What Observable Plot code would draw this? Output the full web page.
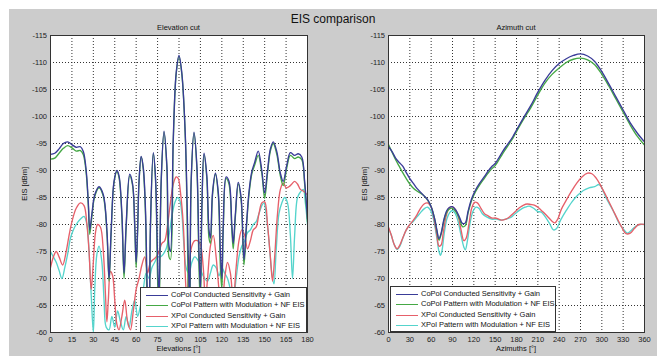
<!DOCTYPE html>
<html><head><meta charset="utf-8">
<script src="https://cdn.jsdelivr.net/npm/d3@7"></script>
<script src="https://cdn.jsdelivr.net/npm/@observablehq/plot@0.6"></script>
<style>
html,body{margin:0;padding:0;background:#fff;}
#root{position:relative;width:657px;height:356px;overflow:hidden;font-family:"Liberation Sans",Arial,sans-serif;color:#111;}
#bg{position:absolute;left:9px;top:9px;width:648px;height:347px;background:#cccccc;}
.panel{position:absolute;top:0;}
.txt{position:absolute;line-height:1;white-space:nowrap;text-align:center;}
.legend{position:absolute;background:#fff;border:1px solid #333;box-sizing:border-box;}
.row{position:absolute;left:0;height:10px;}
.row .ln{position:absolute;top:5px;width:22px;height:0;border-top:1.4px solid;}
.row .lt{position:absolute;top:1px;font-size:7.5px;line-height:1;white-space:nowrap;color:#111;}
</style>
</head><body>
<div id="root"><div id="bg"></div></div>
<script>
// ---------- data ----------
const seriesNames = [
  "CoPol Conducted Sensitivity + Gain",
  "CoPol Pattern with Modulation + NF EIS",
  "XPol Conducted Sensitivity + Gain",
  "XPol Pattern with Modulation + NF EIS"
];
const seriesColors = ["#3a3c98", "#45a845", "#e6606a", "#55d4cc"];

const elevTicks = [0,15,30,45,60,75,90,105,120,135,150,165,180];
const aziTicks = [0,30,60,90,120,150,180,210,240,270,300,330,360];
const eisTicks = [-115,-110,-105,-100,-95,-90,-85,-80,-75,-70,-65,-60];

// Elevation cut  [elevation deg, EIS dBm]
const elevCoCond = [[0,-93],[3,-93.2],[6,-94],[9,-95],[12,-95.3],[15,-94.8],[18,-94.3],[21,-94.4],[23,-93.5],[25,-90],[26.5,-84],[27.5,-79],[29,-82],[31,-85.5],[34,-87],[37,-85.5],[39.5,-79],[41,-70],[42.5,-79],[44.5,-88],[46.5,-90],[48,-89],[50,-82],[51.5,-71],[53,-80],[55.5,-89.3],[57.5,-87.5],[59,-80],[60,-73],[61,-79],[62,-88],[63.5,-92.6],[65,-90.5],[66.5,-83],[68,-66],[69,-62],[70,-80],[72,-93.3],[73.5,-89],[75,-74],[76,-66],[77.5,-88],[79.5,-97.3],[81.5,-91],[83,-76],[84,-75],[86,-96],[88,-108],[90,-111.3],[92,-108],[94.5,-96],[96.5,-74],[97.5,-66],[98.5,-88],[100.5,-97.1],[102.5,-91],[104,-75],[105,-68],[106,-83],[107.5,-93.2],[109.5,-89],[111,-79],[112,-77.5],[113.5,-86],[115.5,-89.5],[117.5,-86],[119,-75],[120,-70],[121,-80],[123,-88.8],[125,-88],[127,-80],[128,-76.5],[129.5,-82],[131.5,-87.8],[133.5,-85],[135.5,-73.5],[137,-79],[139,-86],[141,-89.8],[143,-91.5],[145.5,-93.6],[148,-90],[150,-85.8],[152,-90],[154,-94],[156,-95.3],[158.5,-93.5],[161,-89.5],[163,-88],[165.5,-91],[168,-93.3],[171,-92.8],[173.5,-93.1],[176,-92.5],[178,-88],[180,-81]];

const elevCoPat = [[0,-92.1],[3,-92.3],[6,-93.2],[9,-94.1],[12,-94.6],[15,-94.2],[18,-93.6],[21,-93.7],[23,-92.9],[25,-89.5],[26.5,-83.5],[27.5,-78.2],[29,-81.5],[31,-85.2],[34,-86.8],[37,-85.2],[39.5,-78.5],[41,-69.5],[42.5,-78.5],[44.5,-87.8],[46.5,-89.8],[48,-88.7],[50,-81.5],[51.5,-70],[53,-79.5],[55.5,-89],[57.5,-87.2],[59,-79.5],[60,-72],[61,-78.5],[62,-87.8],[63.5,-92.5],[65,-90.2],[66.5,-82],[68,-60],[69,-56],[70,-79],[72,-93.1],[73.5,-88.5],[75,-70],[76,-62],[77.5,-87.5],[79.5,-97.1],[81.5,-90.5],[83,-74],[84,-73.5],[86,-95.5],[88,-107.8],[90,-111.1],[92,-107.8],[94.5,-95.5],[96.5,-68],[97.5,-58],[98.5,-87.5],[100.5,-96.9],[102.5,-90.5],[104,-72],[105,-65],[106,-82.5],[107.5,-93],[109.5,-88.5],[111,-77.5],[112,-76.5],[113.5,-85.5],[115.5,-89.3],[117.5,-85.5],[119,-72],[120,-68],[121,-79],[123,-88.5],[125,-87.5],[127,-79],[128,-75.5],[129.5,-81.5],[131.5,-87.5],[133.5,-84.5],[135.5,-72.5],[137,-78.5],[139,-85.5],[141,-89.4],[143,-91],[145.5,-92.8],[148,-89.5],[150,-84.8],[152,-89.5],[154,-93.6],[156,-95],[158.5,-93],[161,-89],[163,-87.2],[165.5,-90.5],[168,-92.8],[171,-92.2],[173.5,-92.5],[176,-92],[178,-87.5],[180,-80.5]];

const elevXCond = [[0,-72],[2,-74],[4,-75],[6,-74],[8.5,-72.5],[11,-75],[13,-78],[15,-80.5],[18,-83],[21,-84],[23.5,-83.5],[25.5,-80],[27,-75],[28.5,-68],[30,-73],[31.5,-78.5],[33,-80],[35,-79.5],[37,-75],[38.5,-67],[39.5,-62],[40.5,-66],[42,-71.3],[43.5,-70.5],[45,-66],[46.5,-61.5],[48,-60.5],[50,-63],[52,-66],[54,-62],[56,-60.5],[58,-64],[60,-68],[62,-70],[64,-72.5],[66,-74],[68,-71],[70,-73],[72,-73.5],[74,-74],[76,-75],[78,-76.5],[80,-77],[82,-80],[84,-84],[86,-87.5],[88,-88.8],[89.5,-88.5],[91,-86],[93,-80],[94.5,-70],[95.5,-66],[97,-72],[99,-76],[101,-77],[103,-77],[105,-76.3],[107,-72],[108.5,-66],[110,-70],[112,-76],[114,-78],[116,-74],[118,-68],[120,-64],[122,-70],[124,-73],[126,-71],[128,-66],[130,-72],[132,-77],[134,-79],[136,-78],[138,-75.5],[140,-77],[142,-79],[144,-79.5],[146,-82],[148,-84],[150,-84.2],[152,-80],[154,-74],[155.5,-69.5],[157,-74],[159,-82],[161,-86.5],[163,-87.7],[165,-86.8],[167,-87],[169,-87.5],[171,-88],[173,-87.5],[175,-86.5],[177,-86.2],[180,-85.5]];

const elevXPat = [[0,-75],[2,-74],[4,-73],[6,-71.5],[8,-70],[10,-72],[12,-74.5],[14,-77.5],[16,-79],[18,-80],[21,-81],[23.5,-81.5],[25.5,-80],[27,-75],[28.5,-67],[30,-60],[31,-68],[32.5,-74.5],[34,-76],[36,-73],[37.5,-66],[39,-61],[41,-60.5],[43,-63],[45,-61],[47,-64],[49,-62],[51,-60.5],[53,-63],[55,-61],[57,-64],[59,-66],[61,-63],[63,-65],[65,-68],[67,-71],[69,-70],[71,-72],[73,-73],[75,-74],[77,-74],[79,-74.5],[81,-75.5],[83,-78],[85,-81.5],[87,-84],[89,-85],[90.5,-84.5],[92,-82],[93.5,-76],[95,-72],[97,-71],[99,-73],[101,-74],[104,-73],[106,-71],[108,-70],[110,-69.5],[112,-71],[114,-72.5],[116,-72],[118,-70.5],[120,-72],[122,-71],[124,-70],[126,-68],[128,-66],[130,-70],[132,-74],[134,-76],[136,-77],[138,-78.5],[140,-79],[142,-80],[144,-80.5],[146,-82],[148,-83.5],[149.5,-84],[151,-82],[153,-77],[155,-71],[156.5,-69],[158,-75],[160,-82],[162,-84],[164,-85],[166,-84],[168,-78],[169.5,-70],[171,-78],[173,-85],[175,-86],[177,-86.5],[178.5,-84],[180,-80]];

// Azimuth cut  [azimuth deg, EIS dBm]
const aziCoCond = [[0,-94.4],[5,-93.5],[10,-92.3],[15,-91.5],[20,-90.8],[25,-89.6],[30,-88.5],[35,-87.6],[40,-86.7],[45,-86],[50,-85.3],[55,-84.6],[60,-83.3],[65,-81],[68,-79],[71,-77.4],[74,-78.4],[78,-81],[82,-82.6],[86,-83.2],[90,-83.3],[95,-82.6],[100,-81.3],[104,-80.2],[108,-80.3],[112,-82.5],[117,-84.8],[122,-86.3],[128,-87.6],[135,-88.9],[140,-89.9],[145,-90.7],[150,-91.3],[155,-92.3],[160,-93.4],[165,-94.4],[170,-95.3],[175,-96.3],[180,-97.5],[190,-99.8],[200,-102],[210,-104.5],[220,-106.7],[230,-108.5],[240,-109.8],[250,-110.7],[260,-111.3],[270,-111.6],[280,-111.2],[290,-110.2],[300,-108.3],[310,-106],[320,-103.6],[330,-101.2],[340,-98.8],[350,-96.9],[360,-95.3]];

const aziCoPat = [[0,-94.8],[5,-93.4],[10,-92],[15,-90.8],[20,-89.6],[25,-88.5],[30,-87.5],[35,-86.7],[40,-86.2],[45,-85.8],[50,-85.3],[55,-84.5],[60,-83.3],[65,-81],[68,-78.8],[71,-77.1],[74,-78.2],[78,-80.7],[82,-82.3],[86,-82.9],[90,-83],[95,-82.3],[100,-81],[104,-79.6],[108,-79.8],[112,-82.2],[117,-84.5],[122,-86],[128,-87.3],[135,-88.6],[140,-89.5],[145,-90.3],[150,-90.9],[155,-91.9],[160,-93],[165,-94],[170,-95],[175,-96],[180,-97.2],[190,-99.5],[200,-101.6],[210,-104],[220,-106.2],[230,-107.8],[240,-109],[250,-110],[260,-110.6],[270,-110.8],[280,-110.5],[290,-109.6],[300,-107.8],[310,-105.6],[320,-103.2],[330,-100.8],[340,-98.4],[350,-96.3],[360,-94.7]];

const aziXCond = [[0,-79.5],[4,-78],[8,-76.3],[12,-75.5],[16,-76.2],[20,-77.5],[25,-79],[30,-80],[35,-80.8],[40,-81.8],[45,-83],[50,-83.8],[55,-84],[60,-83.2],[64,-81],[68,-78],[71,-76],[74,-76.2],[77,-78.5],[81,-81.5],[85,-83],[89,-83.3],[94,-82.8],[98,-81.5],[102,-79],[106,-77],[109,-77.4],[113,-80],[117,-83],[121,-84.1],[125,-84],[130,-83],[135,-82],[140,-81.6],[145,-81.2],[150,-81.2],[155,-81],[160,-80.8],[165,-81],[170,-81.4],[175,-82],[180,-82.6],[185,-83.2],[190,-83.6],[195,-83.8],[200,-83.7],[205,-83.6],[210,-83.2],[215,-82.6],[220,-82],[225,-81.3],[230,-80.6],[234,-80.3],[238,-81],[243,-82.8],[250,-84.5],[258,-86.3],[265,-87.7],[272,-88.8],[280,-89.5],[286,-89.4],[292,-88.6],[298,-87.3],[304,-85.8],[310,-84.2],[316,-82.6],[322,-81],[328,-79.5],[334,-78.3],[340,-78.4],[346,-79.3],[352,-80],[360,-80]];

const aziXPat = [[0,-79.3],[4,-78],[8,-76.3],[12,-75.4],[16,-76],[20,-77.4],[25,-79],[30,-80],[35,-80.6],[40,-81.4],[45,-82.2],[50,-82.9],[55,-83.2],[60,-82.4],[64,-80.5],[68,-77.5],[71,-75],[73,-74.3],[75,-75],[78,-78],[82,-81],[86,-82.2],[90,-82.6],[94,-82],[98,-80.5],[102,-78],[106,-75.8],[108,-75.3],[111,-77],[115,-80.5],[119,-82.5],[123,-83.2],[127,-83],[132,-82],[138,-81.4],[145,-81],[152,-81],[158,-80.8],[165,-81],[172,-81.3],[178,-82],[185,-82.7],[192,-83.2],[198,-83.4],[204,-83],[210,-82.4],[215,-82.3],[220,-81.5],[226,-80.3],[232,-79],[236,-79.2],[242,-80.8],[250,-82.6],[258,-84.2],[266,-85.4],[274,-86.3],[282,-86.8],[290,-87],[296,-87.4],[300,-86.8],[305,-85.2],[312,-83.5],[318,-82],[324,-80.3],[330,-79.2],[336,-78.4],[342,-79],[348,-79.7],[354,-80],[360,-80]];

// ---------- drawing ----------
const root = document.getElementById("root");
const FONT = "'Liberation Sans', Arial, sans-serif";

function panel({left, width, ml, mr, xDomain, xTicks, series}) {
  const order = [3, 2, 1, 0];
  const svg = Plot.plot({
    width, height: 356,
    marginLeft: ml, marginRight: mr, marginTop: 35, marginBottom: 24,
    style: {background: "transparent", fontFamily: FONT, fontSize: "7.5px", color: "#222", overflow: "visible"},
    x: {domain: xDomain},
    y: {domain: [-60, -115]},
    marks: [
      Plot.frame({fill: "white", stroke: null}),
      Plot.gridX(xTicks, {stroke: "#333", strokeOpacity: 1, strokeDasharray: "1,2", strokeWidth: 1}),
      Plot.gridY(eisTicks, {stroke: "#333", strokeOpacity: 1, strokeDasharray: "1,2", strokeWidth: 1}),
      ...order.map(i => Plot.line(series[i], {
        x: d => d[0], y: d => d[1], stroke: seriesColors[i], strokeWidth: 1.35,
        curve: "catmull-rom", clip: true
      })),
      Plot.frame({stroke: "#333", strokeWidth: 1}),
      Plot.axisX(xTicks, {tickSize: 0, tickPadding: 4, label: null, tickFormat: d => String(d)}),
      Plot.axisY(eisTicks, {tickSize: 0, tickPadding: 3.5, label: null, tickFormat: d => String(d)})
    ]
  });
  svg.classList.add("panel");
  svg.style.left = left + "px";
  root.appendChild(svg);
}

panel({left: 0, width: 328, ml: 50, mr: 21, xDomain: [0, 180], xTicks: elevTicks,
       series: [elevCoCond, elevCoPat, elevXCond, elevXPat]});
panel({left: 328, width: 329, ml: 60, mr: 13, xDomain: [0, 360], xTicks: aziTicks,
       series: [aziCoCond, aziCoPat, aziXCond, aziXPat]});

function text(str, cx, top, size, rotate) {
  const d = document.createElement("div");
  d.className = "txt";
  d.textContent = str;
  d.style.fontSize = size + "px";
  d.style.width = "200px";
  d.style.left = (cx - 100) + "px";
  d.style.top = top + "px";
  if (rotate) { d.style.transform = "rotate(-90deg)"; d.style.transformOrigin = "50% 50%"; }
  root.appendChild(d);
}
text("EIS comparison", 333, 13, 12);
text("Elevation cut", 178.5, 24, 7.5);
text("Azimuth cut", 516, 24, 7.5);
text("Elevations [°]", 178.5, 345, 7.5);
text("Azimuths [°]", 516, 345, 7.5);
text("EIS [dBm]", 25, 180, 7.5, true);
text("EIS [dBm]", 365, 180, 7.5, true);

function legend(left, top, width) {
  const box = document.createElement("div");
  box.className = "legend";
  box.style.left = left + "px";
  box.style.top = top + "px";
  box.style.width = width + "px";
  box.style.height = "46px";
  seriesNames.forEach((name, i) => {
    const r = document.createElement("div");
    r.className = "row";
    r.style.top = (1.5 + i * 10.5) + "px";
    const ln = document.createElement("div");
    ln.className = "ln";
    ln.style.left = "5px";
    ln.style.borderTopColor = seriesColors[i];
    const lt = document.createElement("div");
    lt.className = "lt";
    lt.style.left = "30px";
    lt.textContent = name;
    r.appendChild(ln); r.appendChild(lt);
    box.appendChild(r);
  });
  root.appendChild(box);
}
legend(140, 287, 167);
legend(390, 286, 166);
</script>
</body></html>
